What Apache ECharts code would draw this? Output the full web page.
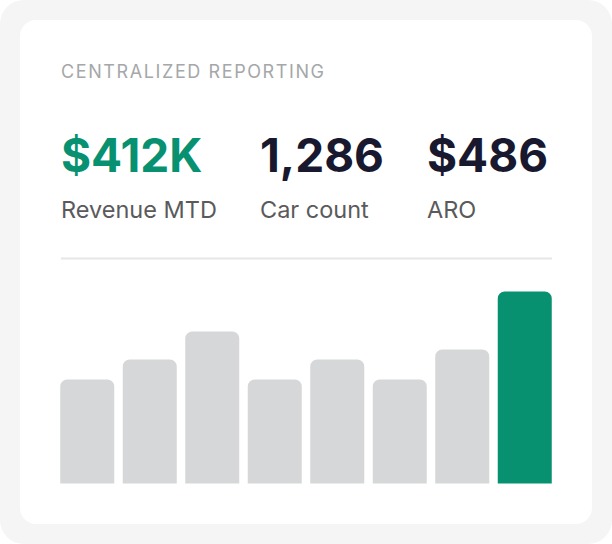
<!DOCTYPE html>
<html>
<head>
<meta charset="utf-8">
<script src="https://cdn.jsdelivr.net/npm/echarts@6/dist/echarts.min.js"></script>
<style>
  html, body { margin: 0; padding: 0; background: #ffffff; }
  #chart { width: 612px; height: 544px; }
  /* espacement des lettres du titre (non géré par ECharts) */
  #chart text[style*="Heading"], #chart text[font-family*="Heading"] { letter-spacing: 1.6px; }
</style>
</head>
<body>
<div id="chart"></div>
<script>
// Données
const heading = 'CENTRALIZED REPORTING';
const kpiValues = ['$412K', '1,286', '$486'];
const kpiLabels = ['Revenue MTD', 'Car count', 'ARO'];
const kpiX = [61, 260, 427];
const days = ['J1', 'J2', 'J3', 'J4', 'J5', 'J6', 'J7', 'J8'];
const volumes = [52, 62, 76, 52, 62, 52, 67, 96];

const GREEN = '#079170';
const GRAY = '#d5d7d8';
const FONT = 'Inter, "Noto Sans", sans-serif';

let chart = echarts.init(document.getElementById('chart'), null, { renderer: 'svg' });

// Textes des indicateurs
let kpiGraphics = [];
kpiValues.forEach((v, i) => {
    kpiGraphics.push({
        type: 'text', left: kpiX[i], top: 132, z: 10,
        style: { text: v, font: '700 46px ' + FONT, fill: i === 0 ? GREEN : '#18182f' }
    });
    kpiGraphics.push({
        type: 'text', left: kpiX[i], top: 197, z: 10,
        style: { text: kpiLabels[i], font: '400 23.5px ' + FONT, fill: '#5a5a5c' }
    });
});

let option = {
    animation: false,
    graphic: [
        { type: 'rect', shape: { x: 0, y: 0, width: 612, height: 544, r: 24 }, style: { fill: '#f5f5f5' }, z: 0 },
        { type: 'rect', shape: { x: 20, y: 20, width: 572, height: 504, r: 16 }, style: { fill: '#ffffff' }, z: 1 },
        { type: 'line', shape: { x1: 61, y1: 258.5, x2: 552, y2: 258.5 }, style: { stroke: '#e6e6e6', lineWidth: 2 }, z: 2 },
        {
            type: 'text', left: 61, top: 62, z: 10,
            style: { text: heading, font: '400 18px Inter, Heading, sans-serif', fill: '#a5a7a9' }
        },
        ...kpiGraphics
    ],
    grid: { left: 56, right: 56, top: 283.5, height: 200 },
    xAxis: {
        type: 'category',
        data: days,
        show: false
    },
    yAxis: {
        type: 'value',
        min: 0,
        max: 100,
        show: false
    },
    series: [{
        type: 'bar',
        data: volumes.map((v, i) => ({
            value: v,
            itemStyle: { color: i === volumes.length - 1 ? GREEN : GRAY }
        })),
        barWidth: 54,
        itemStyle: { borderRadius: [7, 7, 0, 0] },
        z: 5
    }]
};

chart.setOption(option);
</script>
</body>
</html>
